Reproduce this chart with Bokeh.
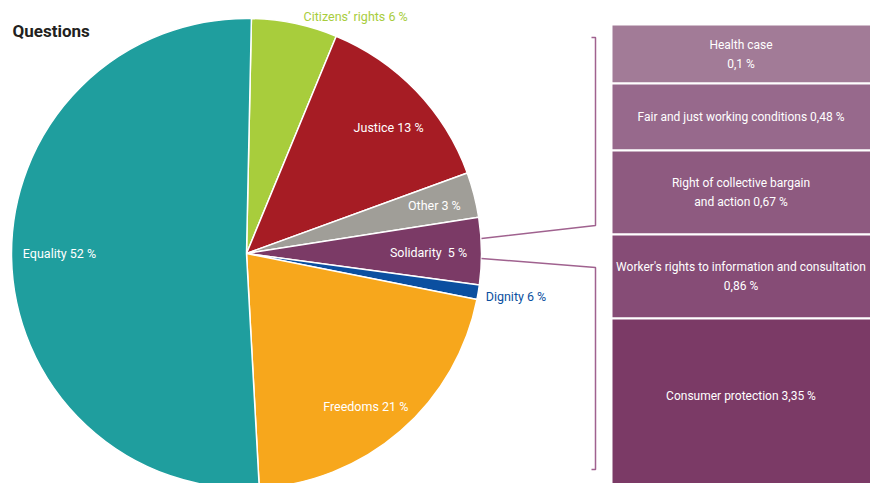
import math
from bokeh.plotting import figure
from bokeh.models import Range1d, ColumnDataSource
from bokeh.core.properties import value
from bokeh.embed import file_html
from bokeh.resources import INLINE

# ---------------- data ----------------
categories = ["Citizens\u2019 rights", "Justice", "Other", "Solidarity", "Dignity", "Freedoms", "Equality"]
label_pct = ["6 %", "13 %", "3 %", "5 %", "6 %", "21 %", "52 %"]
shares = [5.9, 13.2, 3.1, 4.6, 1.0, 21.0, 51.2]          # slice sizes

sub_categories = ["Health case", "Fair and just working conditions",
                  "Right of collective bargain and action",
                  "Worker's rights to information and consultation", "Consumer protection"]
sub_values = ["0,1 %", "0,48 %", "0,67 %", "0,86 %", "3,35 %"]
sub_heights = [59, 67, 84, 84, 170]                       # box heights

# ---------------- styles / layout ----------------
FONT = "Roboto"
slice_colors = ["#a8cd3c", "#a61c24", "#a09e98", "#7b3a66", "#0b4fa0", "#f7a71c", "#1f9e9e"]
label_colors = ["#a8cd3c", "#ffffff", "#ffffff", "#ffffff", "#0b4fa0", "#ffffff", "#ffffff"]
label_sep = ["", "", "", "\u00a0", "", "", ""]
label_r = [261, 190, 194, 182, 243, 194, 187]
label_da = [12.9, 2.2, 0.0, 0.3, 0.7, 3.0, 1.0]
label_align = ["center", "center", "center", "center", "left", "center", "center"]
sub_lines = [["Health case", "0,1 %"],
             ["Fair and just working conditions 0,48 %"],
             ["Right of collective bargain", "and action 0,67 %"],
             ["Worker's rights to information and consultation", "0,86 %"],
             ["Consumer protection 3,35 %"]]
sub_colors = ["#a27b97", "#97698c", "#8e5a80", "#864c76", "#7b3a66"]

W, H = 870, 483
def py(y):  # picture pixel y -> data y
    return H - y

CX, CY, R = 246, py(253), 235
START = 1.2  # degrees clockwise from the top where the first slice starts

p = figure(width=W, height=H, output_backend="svg", toolbar_location=None,
           x_range=Range1d(0, W), y_range=Range1d(0, H), min_border=0)
p.axis.visible = False
p.grid.visible = False
p.outline_line_color = None
p.background_fill_color = "white"

# ---------------- pie ----------------
total = sum(shares)
starts, ends, mids = [], [], []
cum = START
for s in shares:
    a0 = cum
    a1 = cum + s / total * 360.0
    starts.append(math.radians(90 - a0))
    ends.append(math.radians(90 - a1))
    mids.append((a0 + a1) / 2)
    cum = a1

src = ColumnDataSource(dict(start=starts, end=ends, color=slice_colors))
p.wedge(x=CX, y=CY, radius=R, start_angle="start", end_angle="end", direction="clock",
        fill_color="color", line_color="white", line_width=1.5, source=src)

lx, ly, ltxt = [], [], []
for i, c in enumerate(categories):
    a = math.radians(mids[i] + label_da[i])
    lx.append(CX + label_r[i] * math.sin(a))
    ly.append(CY + label_r[i] * math.cos(a))
    ltxt.append(f"{c}{label_sep[i]} {label_pct[i]}")
for al in ("center", "left"):
    idx = [i for i in range(len(categories)) if label_align[i] == al]
    s = ColumnDataSource(dict(x=[lx[i] for i in idx], y=[ly[i] for i in idx],
                              t=[ltxt[i] for i in idx], c=[label_colors[i] for i in idx]))
    p.text(x="x", y="y", text="t", text_color="c", source=s, text_align=al,
           text_baseline="middle", text_font=value(FONT), text_font_size="12.5px")

# title
p.text(x=[12], y=[py(30)], text=["Questions"], text_font=value(FONT), text_font_style="bold",
       text_font_size="17px", text_color="#231f20", text_baseline="middle", text_align="left")

# ---------------- stacked boxes ----------------
BX0, BX1, BTOP = 611, 880, 24
tops, bots = [], []
t = BTOP
for h in sub_heights:
    tops.append(py(t))
    bots.append(py(t + h))
    t += h
bsrc = ColumnDataSource(dict(left=[BX0] * len(tops), right=[BX1] * len(tops), top=tops,
                             bottom=bots, color=sub_colors))
p.quad(left="left", right="right", top="top", bottom="bottom", fill_color="color",
       line_color="white", line_width=2, source=bsrc)

tx, ty, tt = [], [], []
LH = 19
for i, lines in enumerate(sub_lines):
    cmid = (tops[i] + bots[i]) / 2
    if i == len(sub_lines) - 1:
        cmid = py(395)
    n = len(lines)
    for k, line in enumerate(lines):
        tx.append((BX0 + 870) / 2)
        ty.append(cmid + (n - 1) * LH / 2 - k * LH)
        tt.append(line)
p.text(x=tx, y=ty, text=tt, text_color="white", text_align="center", text_baseline="middle",
       text_font=value(FONT), text_font_size="12px")

# ---------------- brackets ----------------
LC = "#a0628f"
p.line(x=[591, 595, 595, 481], y=[py(37), py(37), py(225), py(238)], line_color=LC, line_width=1.5)
p.line(x=[481, 595, 595, 591], y=[py(258), py(267), py(469), py(469)], line_color=LC, line_width=1.5)

open("out.html", "w").write(file_html(p, INLINE))
